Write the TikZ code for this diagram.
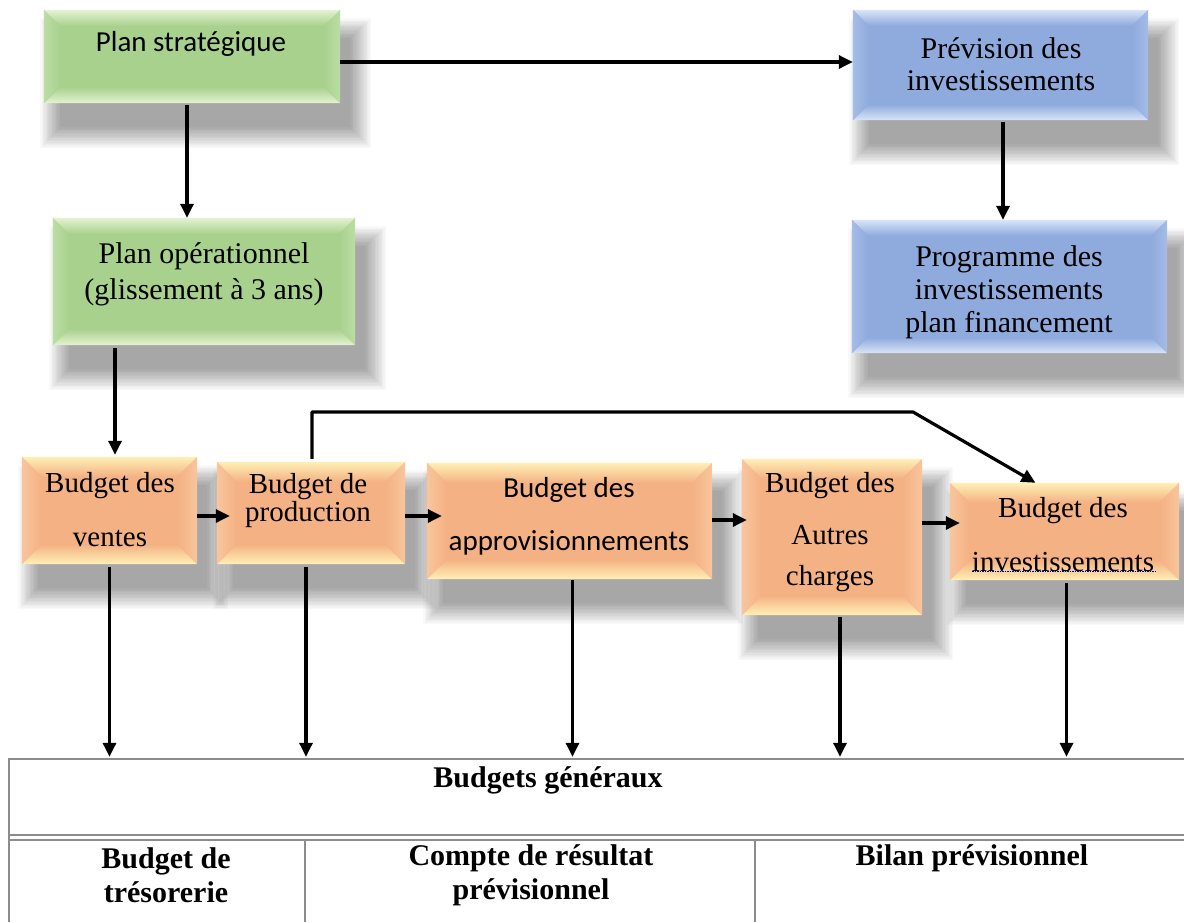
\documentclass[tikz,border=0pt]{standalone}
\usepackage{fontspec}
\setmainfont{Liberation Serif}
\newfontfamily\calib{Carlito}
\usetikzlibrary{arrows.meta,calc}
\definecolor{gmain}{HTML}{A9D18E}
\definecolor{gedge}{HTML}{E4F3D2}
\definecolor{gside}{HTML}{BCDDA5}
\definecolor{bmain}{HTML}{8FAADC}
\definecolor{bedge}{HTML}{D9E5F7}
\definecolor{bside}{HTML}{A5BCE6}
\definecolor{omain}{HTML}{F4B183}
\definecolor{oedge}{HTML}{FFF0B5}
\definecolor{oside}{HTML}{F9C59C}
\definecolor{tgray}{HTML}{8C8C8C}
\newcommand\mkbox[5]{\node[boxshape, minimum width={(#4-#2)*1pt}, minimum height={(#5-#3)*1pt}] (#1) at ({(#2+#4)/2},{(#3+#5)/2}) {};}
\newcommand\softshadow[1]{%
  \foreach \k in {0,...,15}{%
    \fill[black,opacity=0.022] ($(#1.north west)+(16-\k*1.3,28-\k*1.3)$) rectangle ($(#1.south east)+(10+\k*1.4,24+\k*1.4)$);
  }}
\newcommand\bevel[5]{%
  \fill[#2] (#1.north west) rectangle (#1.south east);
  \shade[top color=#3, bottom color=#2] (#1.north west) -- (#1.north east) -- ($(#1.north east)+(-#5,#5)$) -- ($(#1.north west)+(#5,#5)$) -- cycle;
  \shade[top color=#2, bottom color=#3] (#1.south west) -- (#1.south east) -- ($(#1.south east)+(-#5,-#5)$) -- ($(#1.south west)+(#5,-#5)$) -- cycle;
  \shade[left color=#4, right color=#2] (#1.north west) -- ($(#1.north west)+(#5,#5)$) -- ($(#1.south west)+(#5,-#5)$) -- (#1.south west) -- cycle;
  \shade[left color=#2, right color=#4] (#1.north east) -- ($(#1.north east)+(-#5,#5)$) -- ($(#1.south east)+(-#5,-#5)$) -- (#1.south east) -- cycle;
}
\begin{document}
\begin{tikzpicture}[x=1pt,y=-1pt,
  boxshape/.style={rectangle, inner sep=0pt, draw=none},
  serif/.style={align=center, inner sep=0pt, font=\fontsize{30}{33}\selectfont},
  bserif/.style={align=center, inner sep=0pt, font=\fontsize{29}{33}\selectfont},
  sans/.style={align=center, inner sep=0pt, font=\calib\fontsize{29}{33}\selectfont},
  tabtext/.style={align=center, inner sep=0pt, font=\bfseries\fontsize{30}{34}\selectfont},
  arr/.style={line width=3.2pt, -{Triangle[length=14pt,width=13pt]}},
  tline/.style={draw=tgray, line width=1.4pt}]
\useasboundingbox (0,0) rectangle (1184,922);
\fill[white] (0,0) rectangle (1184,922);

% boxes
\mkbox{ps}{44}{10}{340}{103}
\mkbox{pv}{853}{10}{1148}{120}
\mkbox{po}{53}{218}{355}{345}
\mkbox{pg}{852}{220}{1167}{353}
\mkbox{bv}{22}{457}{197}{564}
\mkbox{bp}{217}{462}{405}{564}
\mkbox{ba}{427}{463}{712}{579}
\mkbox{bc}{742}{459}{922}{615}
\mkbox{bi}{950}{483}{1179}{580}

% shadows
\begin{scope}
\clip (0,0) rectangle (1184,745);
\softshadow{ps}\softshadow{pv}\softshadow{po}\softshadow{pg}
\softshadow{bv}\softshadow{bp}\softshadow{ba}\softshadow{bc}\softshadow{bi}
\end{scope}

% bevelled fills
\bevel{ps}{gmain}{gedge}{gside}{16}
\bevel{po}{gmain}{gedge}{gside}{16}
\bevel{pv}{bmain}{bedge}{bside}{16}
\bevel{pg}{bmain}{bedge}{bside}{16}
\bevel{bv}{omain}{oedge}{oside}{20}
\bevel{bp}{omain}{oedge}{oside}{20}
\bevel{ba}{omain}{oedge}{oside}{20}
\bevel{bc}{omain}{oedge}{oside}{20}
\bevel{bi}{omain}{oedge}{oside}{20}

% texts
\node[sans] (tps) at (191,44) {Plan stratégique};
\node[serif] (tpv) at (1001,64) {Prévision des\\[-1pt]investissements};
\node[serif] (tpo) at (204,274) {Plan opérationnel\\[3pt](glissement à 3 ans)};
\node[serif] (tpg) at (1009,292) {Programme des\\[0pt]investissements\\[0pt]plan financement};
\node[bserif] (tbv) at (110,510) {Budget des\\[21pt]ventes};
\node[bserif] (tbp) at (308,501) {Budget de\\[-5pt]production};
\node[sans] (tba) at (569,516) {Budget des\\[20pt]approvisionnements};
\node[bserif] (tbc) at (830,532) {Budget des\\[19pt]Autres\\[8pt]charges};
\node[bserif] (tbi) at (1063,535) {Budget des\\[21pt]investissements};
\draw[blue!75!black, line width=1pt, dash pattern=on 1.5pt off 1pt] (972,571) -- (1157,571);

% table
\node[inner sep=0pt, minimum width=1175pt, minimum height=163pt] (tbl) at (596.5,840.5) {};
\draw[tline] (tbl.south west) -- (tbl.north west) -- (tbl.north east);
\draw[tline] ($(tbl.north west)+(0,76)$) -- ($(tbl.north east)+(0,76)$);
\draw[tline] ($(tbl.north west)+(0,81)$) -- ($(tbl.north east)+(0,81)$);
\draw[tline] ($(tbl.north west)+(296,81)$) -- ($(tbl.south west)+(296,0)$);
\draw[tline] ($(tbl.north west)+(746,81)$) -- ($(tbl.south west)+(746,0)$);
\node[tabtext] (tgen) at (548,780) {Budgets généraux};
\node[tabtext] (ttr) at (166,875) {Budget de\\[0pt]trésorerie};
\node[tabtext] (tcr) at (531,875) {Compte de résultat\\[0pt]prévisionnel};
\node[tabtext, anchor=north] (tbil) at (972,844) {Bilan prévisionnel};

% arrows
\coordinate (a1) at ($(ps.east)+(0,5.5)$);
\draw[arr] (a1) -- (a1 -| pv.west);
\coordinate (a2) at ($(ps.south)+(-5,2)$);
\draw[arr] (a2) -- (a2 |- po.north);
\coordinate (a3) at ($(pv.south)+(2.5,2)$);
\draw[arr] (a3) -- (a3 |- pg.north);
\coordinate (a4) at ($(po.south)+(-89,3)$);
\draw[arr] (a4) -- ($(a4 |- bv.north)+(0,-2)$);
\coordinate (h1) at (bv.east |- 0,516);
\draw[arr] (h1) -- ($(h1 -| bp.west)+(13,0)$);
\coordinate (h2) at (bp.east |- 0,516);
\draw[arr] (h2) -- ($(h2 -| ba.west)+(15,0)$);
\coordinate (h3) at (ba.east |- 0,520);
\draw[arr] (h3) -- ($(h3 -| bc.west)+(5,0)$);
\coordinate (h4) at (bc.east |- 0,523);
\draw[arr] (h4) -- ($(h4 -| bi.west)+(10,0)$);
\coordinate (p1) at ($(bp.north)+(1,-3)$);
\coordinate (p2) at (p1 |- 0,412);
\coordinate (p3) at (913,412);
\draw[arr, line join=round] (p1) -- (p2) -- (p3) -- ($(bi.north)+(-29,0)$);
% down arrows
\coordinate (d1) at ($(bv.south)+(0,3)$);
\draw[arr] (d1) -- ($(d1 |- tbl.north)+(0,-2)$);
\coordinate (d2) at ($(bp.south)+(-5,3)$);
\draw[arr] (d2) -- ($(d2 |- tbl.north)+(0,-2)$);
\coordinate (d3) at ($(ba.south)+(3,1)$);
\draw[arr] (d3) -- ($(d3 |- tbl.north)+(0,-2)$);
\coordinate (d4) at ($(bc.south)+(8,2)$);
\draw[arr] (d4) -- ($(d4 |- tbl.north)+(0,-2)$);
\coordinate (d5) at ($(bi.south)+(2,3)$);
\draw[arr] (d5) -- ($(d5 |- tbl.north)+(0,-2)$);
\end{tikzpicture}
\end{document}
